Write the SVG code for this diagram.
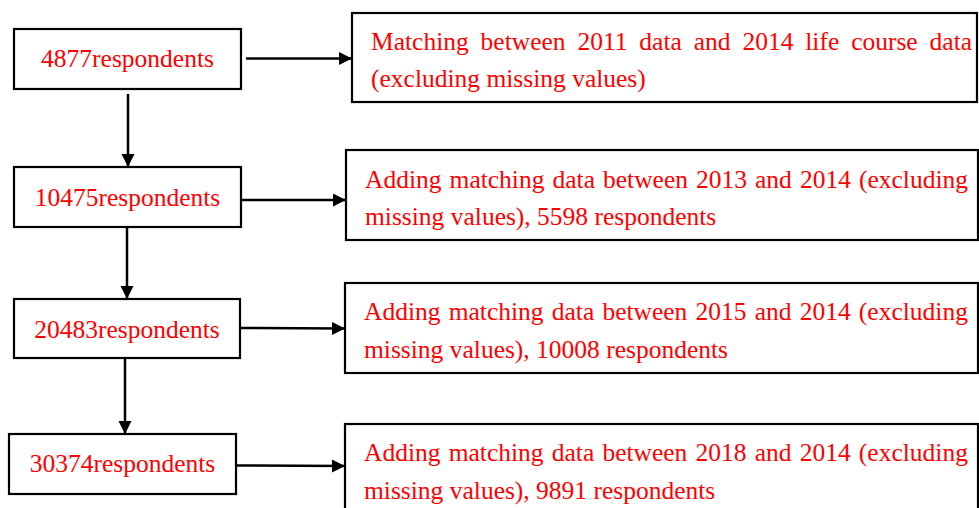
<svg xmlns="http://www.w3.org/2000/svg" width="979" height="508" viewBox="0 0 979 508">
<defs>
<marker id="ah" markerUnits="userSpaceOnUse" markerWidth="15" markerHeight="14" refX="13" refY="6.5" orient="auto">
<path d="M0,0 L13,6.5 L0,13 z" fill="#000"/>
</marker>
<style>
.box{fill:#fff;stroke:#000;stroke-width:2.2}
.t{font-family:"Liberation Serif","Times New Roman",serif;font-size:25.5px;fill:#ff0000}
.c{text-anchor:middle}
.conn line{stroke:#000;stroke-width:2.5;marker-end:url(#ah)}
</style>
</defs>
<rect width="979" height="508" fill="#fff"/>
<g id="n1"><rect class="box" x="14" y="29" width="227" height="60"/><text class="t c" x="127.5" y="67">4877respondents</text></g>
<g id="n2"><rect class="box" x="14" y="167" width="227" height="60"/><text class="t c" x="127.5" y="206">10475respondents</text></g>
<g id="n3"><rect class="box" x="14" y="299" width="226" height="59"/><text class="t c" x="127" y="338">20483respondents</text></g>
<g id="n4"><rect class="box" x="9" y="434" width="227" height="60"/><text class="t c" x="122.5" y="472">30374respondents</text></g>
<g id="r1"><rect class="box" x="352" y="13" width="625" height="89"/>
<text class="t" x="371" y="50" word-spacing="5.5">Matching between 2011 data and 2014 life course data</text>
<text class="t" x="371" y="87">(excluding missing values)</text></g>
<g id="r2"><rect class="box" x="346" y="150" width="632" height="90"/>
<text class="t" x="365" y="188" word-spacing="1.67">Adding matching data between 2013 and 2014 (excluding</text>
<text class="t" x="365" y="225">missing values), 5598 respondents</text></g>
<g id="r3"><rect class="box" x="345" y="283" width="633" height="90"/>
<text class="t" x="364" y="320" word-spacing="1.8">Adding matching data between 2015 and 2014 (excluding</text>
<text class="t" x="364" y="358">missing values), 10008 respondents</text></g>
<g id="r4"><rect class="box" x="345" y="424" width="633" height="100"/>
<text class="t" x="364" y="461" word-spacing="1.8">Adding matching data between 2018 and 2014 (excluding</text>
<text class="t" x="364" y="499">missing values), 9891 respondents</text></g>
<g class="conn" id="connectors">
<line x1="128" y1="94" x2="128" y2="167"/>
<line x1="127" y1="228" x2="127" y2="299"/>
<line x1="125" y1="359" x2="125" y2="434"/>
<line x1="246" y1="58.5" x2="352" y2="58.5"/>
<line x1="241" y1="200" x2="346" y2="200"/>
<line x1="240" y1="328" x2="345" y2="328.5"/>
<line x1="237" y1="465.5" x2="345" y2="466"/>
</g>
</svg>
